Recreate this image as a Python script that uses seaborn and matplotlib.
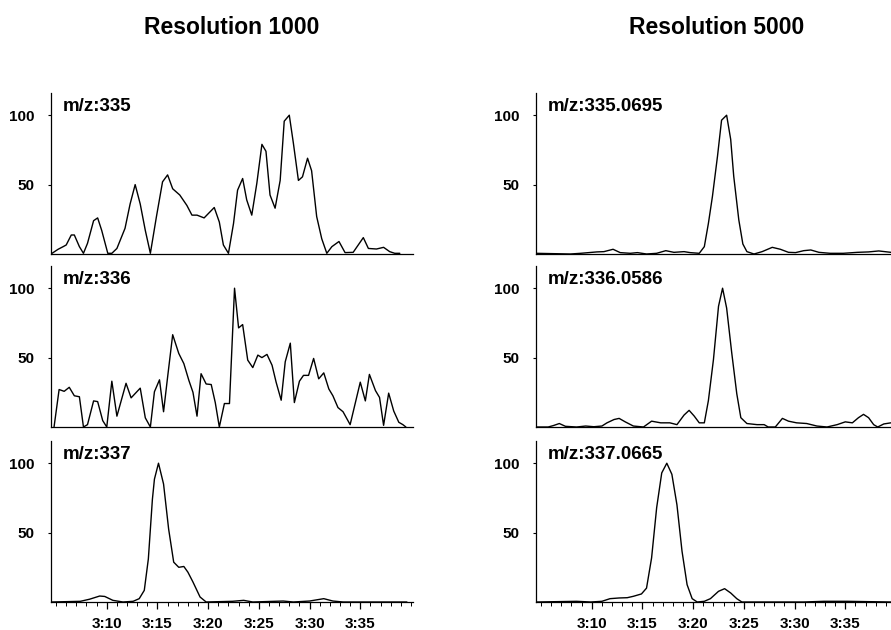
import matplotlib
matplotlib.use("Agg")
import matplotlib.pyplot as plt
from matplotlib.ticker import MultipleLocator, FixedLocator, FixedFormatter
import seaborn as sns
import pandas as pd

# ---------------- data (time in seconds after 3:00, relative intensity %) ----------------
titles = ["Resolution 1000", "Resolution 5000"]
labels_left = ["m/z:335", "m/z:336", "m/z:337"]
labels_right = ["m/z:335.0695", "m/z:336.0586", "m/z:337.0665"]
tick_pos = [190, 195, 200, 205, 210, 215]
tick_labels = ["3:10", "3:15", "3:20", "3:25", "3:30", "3:35"]

t_335 = [184.5, 185.2, 185.7, 186.0, 186.5, 186.8, 187.3, 187.7, 188.1, 188.7, 189.1, 189.5,
         190.1, 190.5, 191.0, 191.8, 192.3, 192.8, 193.3, 193.8, 194.3, 194.9, 195.5, 196.0,
         196.5, 197.2, 197.9, 198.4, 198.9, 199.6, 200.0, 200.6, 201.1, 201.5, 202.0, 202.5,
         202.9, 203.4, 203.8, 204.3, 204.8, 205.3, 205.7, 206.1, 206.6, 207.1, 207.5, 208.0,
         208.4, 208.9, 209.3, 209.8, 210.2, 210.7, 211.2, 211.7, 212.2, 212.9, 213.5, 214.3,
         215.3, 215.8, 216.6, 217.3, 217.9, 218.4, 218.9]
i_335 = [0, 3.4, 5.3, 6.5, 13.7, 13.7, 5.3, 0.5, 7.7, 24, 26, 17,
         0.5, 0.5, 4, 18.5, 36, 50, 36, 17, 0.5, 27, 52, 57,
         47, 42.5, 35, 28, 28, 26, 29, 33.5, 23, 6.5, 0.5, 22,
         46, 54.4, 39, 28, 51, 79, 74, 42.5, 33, 53, 95.7, 100,
         80, 53, 55.6, 69, 60, 27, 11, 0.5, 5.3, 9, 1, 1.2,
         11.8, 4, 3.6, 4.8, 1.7, 0.5, 0.5]

t_336 = [184.8, 185.3, 185.8, 186.3, 186.8, 187.3, 187.7, 188.1, 188.7, 189.1, 189.6, 190.0,
         190.5, 191.0, 191.9, 192.4, 193.3, 193.8, 194.3, 194.7, 195.2, 195.6, 196.0, 196.5,
         197.1, 197.6, 198.1, 198.5, 198.9, 199.3, 199.8, 200.3, 200.7, 201.1, 201.6, 202.1,
         202.6, 203.0, 203.4, 203.9, 204.4, 204.9, 205.3, 205.8, 206.3, 206.7, 207.2, 207.6,
         208.1, 208.5, 209.0, 209.4, 209.9, 210.4, 210.9, 211.4, 211.9, 212.3, 212.8, 213.3,
         214.0, 215.0, 215.5, 215.9, 216.5, 216.9, 217.3, 217.8, 218.3, 218.8, 219.2, 219.5]
i_336 = [0, 27, 25.7, 28.6, 22.5, 21.8, 0, 1.7, 18.8, 18.3, 4.6, 0,
         33, 7.8, 31.5, 21, 28, 6.6, 0, 25.4, 34, 11, 36, 66.5,
         53, 45.7, 33.5, 25, 7.8, 38.4, 31, 30.6, 17.6, 0, 16.9, 16.9,
         100, 71.4, 73.8, 48.2, 42.8, 51.8, 50, 52.3, 44.5, 32.3, 19.3, 47,
         60.4, 17.6, 33, 37.2, 37.2, 49.4, 34.7, 39, 27.4, 22.5, 14, 11,
         1.7, 32.3, 18.8, 37.9, 26.2, 21.3, 1.2, 24.4, 11.5, 3.4, 1.7, 0]

t_337 = [184.6, 187.4, 188.3, 189.3, 189.8, 190.6, 191.6, 192.6, 193.2, 193.7, 194.1, 194.5,
         194.7, 195.1, 195.6, 196.1, 196.6, 197.1, 197.6, 198.0, 198.5, 199.2, 199.8, 202.4,
         203.5, 204.4, 207.4, 208.4, 210.0, 211.4, 212.3, 213.3, 219.6]
i_337 = [0, 0.5, 2, 4.3, 4, 1.2, 0, 0.5, 2.4, 8.4, 31, 74,
         88.5, 100, 85, 52.6, 28.7, 25, 25.6, 21.5, 14.4, 3.6, 0, 0.5,
         1.2, 0, 0.7, 0, 0.7, 2.4, 0.7, 0, 0]

t_3350695 = [184.5, 187.9, 188.9, 190.5, 191.2, 192.1, 192.8, 193.8, 194.5, 195.4, 196.4, 197.3,
             198.1, 199.1, 199.7, 200.6, 201.1, 201.5, 201.9, 202.4, 202.8, 203.3, 203.7, 204.0,
             204.5, 204.9, 205.3, 206.0, 206.8, 207.8, 208.6, 209.4, 210.1, 210.9, 211.6, 212.4,
             213.5, 214.8, 216.2, 217.3, 218.3, 219.5]
i_3350695 = [0.5, 0, 0.5, 1.5, 1.7, 3.4, 1, 0.5, 1, 0, 0.5, 2.4,
             1.2, 1.7, 1, 0.5, 5.3, 22, 41.5, 70.5, 96.4, 100, 82.6, 56,
             24.6, 7.2, 1.7, 0, 1.7, 4.8, 3.4, 1.2, 1, 2.4, 2.9, 1.2,
             0.5, 0.5, 1.2, 1.5, 2.2, 1.2]

t_3360586 = [184.5, 185.7, 186.2, 186.8, 187.4, 188.5, 189.4, 190.2, 191.0, 191.5, 192.2, 192.7,
             193.3, 194.1, 195.1, 195.9, 196.8, 197.7, 198.4, 199.1, 199.6, 200.1, 200.6, 201.1,
             201.5, 202.0, 202.5, 202.9, 203.3, 203.8, 204.3, 204.7, 205.3, 206.3, 207.0, 207.4,
             208.1, 208.8, 209.4, 210.2, 211.2, 212.2, 213.2, 214.2, 215.0, 215.7, 216.3, 216.8,
             217.3, 217.8, 218.2, 218.8, 219.5]
i_3360586 = [0, 0, 1, 2.5, 0.5, 0, 0.7, 0.2, 0.7, 3, 5.4, 6.2,
             3.7, 0.7, 0, 4.2, 3, 3, 1.7, 8.6, 12, 7.9, 3, 3,
             19, 48.6, 87, 100, 85.7, 53.6, 24, 6.7, 2.5, 1.7, 1.7, 0,
             0, 6.2, 4.2, 3, 2.5, 0.7, 0, 1.7, 3.7, 3, 6.7, 9.1,
             6.7, 1.7, 0, 2.2, 3]

t_3370665 = [184.6, 188.5, 189.9, 191.0, 191.8, 192.7, 193.5, 194.1, 194.9, 195.4, 195.9, 196.4,
             196.9, 197.4, 197.9, 198.4, 198.9, 199.4, 199.9, 200.4, 201.1, 201.7, 202.5, 203.1,
             203.7, 204.3, 204.8, 210.9, 212.9, 215.2, 219.5]
i_3370665 = [0, 0.5, 0, 0.5, 2.4, 2.9, 3.1, 4.1, 5.8, 10, 31.8, 68,
             93, 100, 92, 70, 36.6, 12.5, 2.4, 0, 0.5, 2.4, 7.7, 9.6,
             6.5, 2.4, 0, 0, 0.5, 0.5, 0]

series = [
    [(t_335, i_335, labels_left[0]), (t_3350695, i_3350695, labels_right[0])],
    [(t_336, i_336, labels_left[1]), (t_3360586, i_3360586, labels_right[1])],
    [(t_337, i_337, labels_left[2]), (t_3370665, i_3370665, labels_right[2])],
]

# ---------------- style ----------------
sns.set_theme(style="ticks")
plt.rcParams["font.family"] = ["Liberation Sans", "DejaVu Sans"]
plt.rcParams["text.color"] = "black"
plt.rcParams["axes.labelcolor"] = "black"
plt.rcParams["xtick.color"] = "black"
plt.rcParams["ytick.color"] = "black"
plt.rcParams["axes.edgecolor"] = "black"

W, H = 891, 630
fig = plt.figure(figsize=(W / 100, H / 100), dpi=100)

col_left = [51, 536]
ax_w = 362
row_bottom = [254, 427, 602]
ax_h = 161

for r in range(3):
    for c in range(2):
        t, y, lab = series[r][c]
        ax = fig.add_axes([col_left[c] / W, 1 - row_bottom[r] / H, ax_w / W, ax_h / H])
        df = pd.DataFrame({"time": t, "intensity": y})
        sns.lineplot(data=df, x="time", y="intensity", ax=ax, color="black",
                     linewidth=1.0, estimator=None, sort=False)
        ax.set_xlim(184.5, 220.2)
        ax.set_ylim(0, 116)
        ax.set_xlabel("")
        ax.set_ylabel("")
        for s in ["top", "right"]:
            ax.spines[s].set_visible(False)
        for s in ["left", "bottom"]:
            ax.spines[s].set_linewidth(0.9)
            ax.spines[s].set_color("black")
        ax.set_yticks([50, 100])
        ax.set_yticklabels(["50", "100"], fontsize=11, fontweight="bold", color="black")
        ax.tick_params(axis="y", length=2, width=0.8, pad=10, colors="black")
        if r == 2:
            ax.xaxis.set_major_locator(FixedLocator(tick_pos))
            ax.xaxis.set_major_formatter(FixedFormatter(tick_labels))
            ax.xaxis.set_minor_locator(MultipleLocator(1))
            ax.tick_params(axis="x", which="major", length=5, width=0.9, pad=6,
                           labelsize=11, colors="black")
            ax.tick_params(axis="x", which="minor", length=3, width=0.7, colors="black")
            for tl in ax.get_xticklabels():
                tl.set_fontweight("bold")
        else:
            ax.set_xticks([])
        ax.text(0.033, 0.97, lab, transform=ax.transAxes, ha="left", va="top",
                fontsize=13.5, fontweight="bold", color="black")

for c in range(2):
    fig.text((col_left[c] + ax_w / 2) / W, 1 - 27 / H, titles[c], ha="center",
             va="center", fontsize=16.5, fontweight="bold", color="black")

fig.savefig("out.png", dpi=100)
